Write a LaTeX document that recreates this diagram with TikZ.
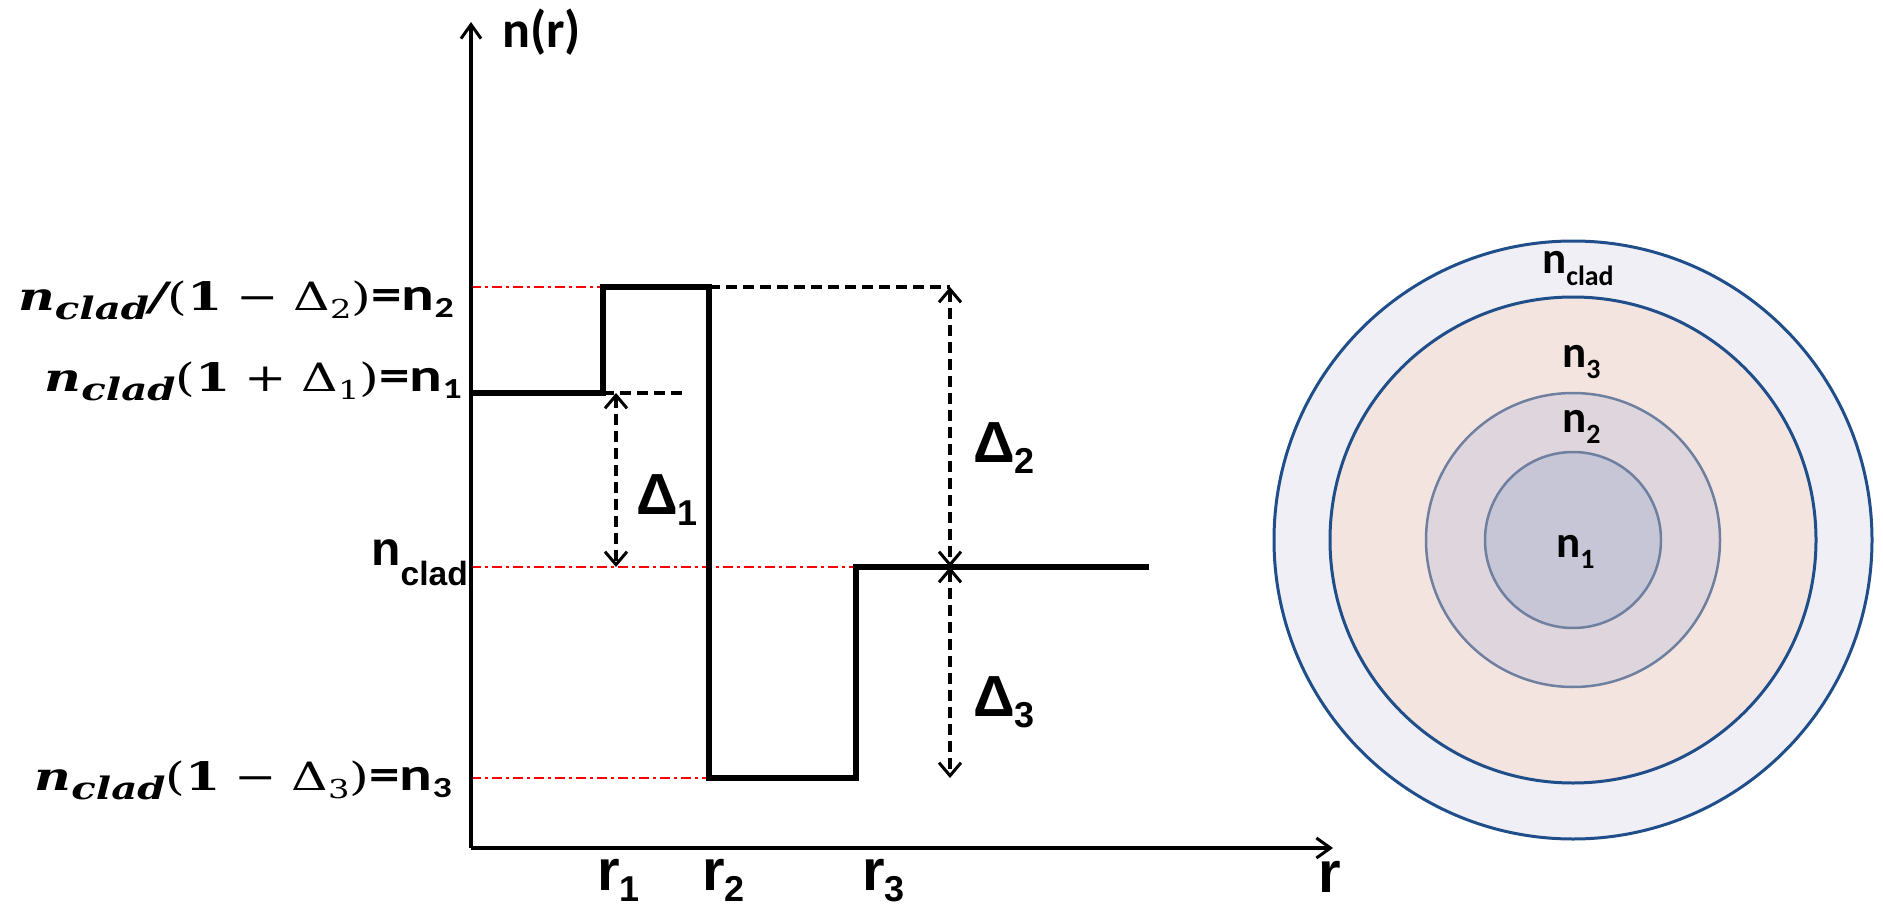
\documentclass[tikz,border=0pt]{standalone}
\usepackage{fontspec}
\usepackage{graphicx}
\setmainfont{Carlito}
\newfontfamily\arl{Liberation Sans}
\newfontfamily\dvs{DejaVu Serif}
\usetikzlibrary{arrows.meta}
\newcommand\lsub[2][0.2em]{\raisebox{-#1}{\scalebox{0.62}{#2}}}
\newcommand\eqn[1]{{\bfseries\fontsize{47}{52}\selectfont =n\lsub[0.17em]{#1}}}
% #1 text between n_clad and 1, #2 operator, #3 index
\newcommand\mlbl[3]{\scalebox{1.3}[1.0]{{\dvs\fontsize{39}{44}\selectfont
  {\bfseries\itshape n\raisebox{-0.24em}{\fontsize{31}{32}\selectfont clad}}#1\textbf{1}\hspace{0.28em}#2\hspace{0.28em}Δ\raisebox{-0.22em}{\fontsize{26}{28}\selectfont #3})}\eqn{#3}}}
\definecolor{ringA}{HTML}{F0EFF5}
\definecolor{ringB}{HTML}{F3E4E0}
\definecolor{ringC}{HTML}{DED6DC}
\definecolor{ringD}{HTML}{C6C6D6}
\definecolor{darkring}{HTML}{1F4E8A}
\definecolor{grayring}{HTML}{6F7F9F}
\tikzset{
  axisline/.style={line width=3.2pt, -{Straight Barb[length=14pt,width=20pt,line width=3pt]}},
  prof/.style={line width=5.2pt, line join=miter},
  reddd/.style={red, line width=2.2pt, dash pattern=on 10pt off 4pt on 2.5pt off 4.5pt},
  blkdash/.style={line width=3.3pt, dash pattern=on 11pt off 6pt},
  dimarrow/.style={line width=3.3pt, dash pattern=on 11pt off 6pt,
     {Straight Barb[length=13pt,width=22pt,line width=3pt]}-{Straight Barb[length=13pt,width=22pt,line width=3pt]}},
  lefttxt/.style={anchor=base east, inner sep=0pt},
  arltxt/.style={anchor=base west, inner sep=0pt, font=\arl\bfseries\fontsize{58}{64}\selectfont},
  circtxt/.style={anchor=base west, inner sep=0pt, font=\bfseries\fontsize{45}{50}\selectfont},
  darkc/.style={draw=darkring, line width=3pt},
  grayc/.style={draw=grayring, line width=2.5pt}
}
\begin{document}
\begin{tikzpicture}[x=1pt,y=-1pt]
\useasboundingbox (0,0) rectangle (1883,915);
% coordinates
\coordinate (O) at (471,848);
\coordinate (ytop) at (471,22);
\coordinate (xend) at (1333,848);
\coordinate (p0) at (471,393);
\coordinate (p1) at (603,393);
\coordinate (p2) at (603,287);
\coordinate (p3) at (709,287);
\coordinate (p4) at (709,778);
\coordinate (p5) at (856,778);
\coordinate (p6) at (856,567);
\coordinate (p7) at (1149,567);
\coordinate (y2) at (471,287);
\coordinate (yc) at (471,567);
\coordinate (y3) at (471,778);
\coordinate (d1end) at (682,393);
\coordinate (d2end) at (950,287);
\coordinate (a1top) at (616,393);
\coordinate (a1bot) at (616,567);
\coordinate (a2mid) at (950,567);
\coordinate (a3bot) at (950,778);
% red dash-dot guide lines
\draw[reddd] (y2) -- (p2);
\draw[reddd] (yc) -- (p6);
\draw[reddd] (y3) -- (p4);
% black dashed guides
\draw[blkdash] (p1) -- (d1end);
\draw[blkdash] (p3) -- (d2end);
% dimension arrows
\draw[dimarrow] (a1top) -- (a1bot);
\draw[dimarrow] (d2end) -- (a2mid);
\draw[dimarrow] (a2mid) -- (a3bot);
% axes
\draw[axisline] (O) -- (ytop);
\draw[axisline] (O) -- (xend);
% profile
\draw[prof] (p0) -- (p1) -- (p2) -- (p3) -- (p4) -- (p5) -- (p6) -- (p7);
% axis labels
\node[anchor=base west, inner sep=0pt, font=\bfseries\fontsize{52}{60}\selectfont] (nr) at (502,48) {n(r)};
\node[arltxt] (r1) at (597,890) {r\lsub{1}};
\node[arltxt] (r2) at (702,890) {r\lsub{2}};
\node[arltxt] (r3) at (862,890) {r\lsub{3}};
\node[arltxt] (rr) at (1318,892) {r};
% delta labels
\node[arltxt] (D1) at (636,514) {Δ\lsub{1}};
\node[arltxt] (D2) at (973,462) {Δ\lsub{2}};
\node[arltxt] (D3) at (973,716) {Δ\lsub{3}};
% left labels
\node[lefttxt] (L2) at (454,310) {\mlbl{{\bfseries\itshape /}(}{−}{2}};
\node[lefttxt] (L1) at (462,391) {\mlbl{(}{+}{1}};
\node[lefttxt] (L3) at (452,790) {\mlbl{(}{−}{3}};
\node[anchor=base east, inner sep=0pt, font=\arl\bfseries\fontsize{48}{54}\selectfont] (Lc) at (468,565) {n\raisebox{-0.42em}{\scalebox{0.7}{clad}}};
% fibre cross-section
\coordinate (C) at (1573,540);
\fill[ringA] (C) circle[radius=299];
\fill[ringB] (C) circle[radius=243];
\fill[ringC] (C) circle[radius=147];
\fill[ringD] (C) circle[radius=88];
\draw[darkc] (C) circle[radius=299];
\draw[darkc] (C) circle[radius=243];
\draw[grayc] (C) circle[radius=147];
\draw[grayc] (C) circle[radius=88];
\node[circtxt] (cclad) at (1542,273) {n\lsub[0.27em]{clad}};
\node[circtxt] (c3) at (1562,367) {n\lsub[0.25em]{3}};
\node[circtxt] (c2) at (1562,432) {n\lsub[0.25em]{2}};
\node[circtxt] (c1) at (1556,557) {n\lsub[0.25em]{1}};
\end{tikzpicture}
\end{document}
